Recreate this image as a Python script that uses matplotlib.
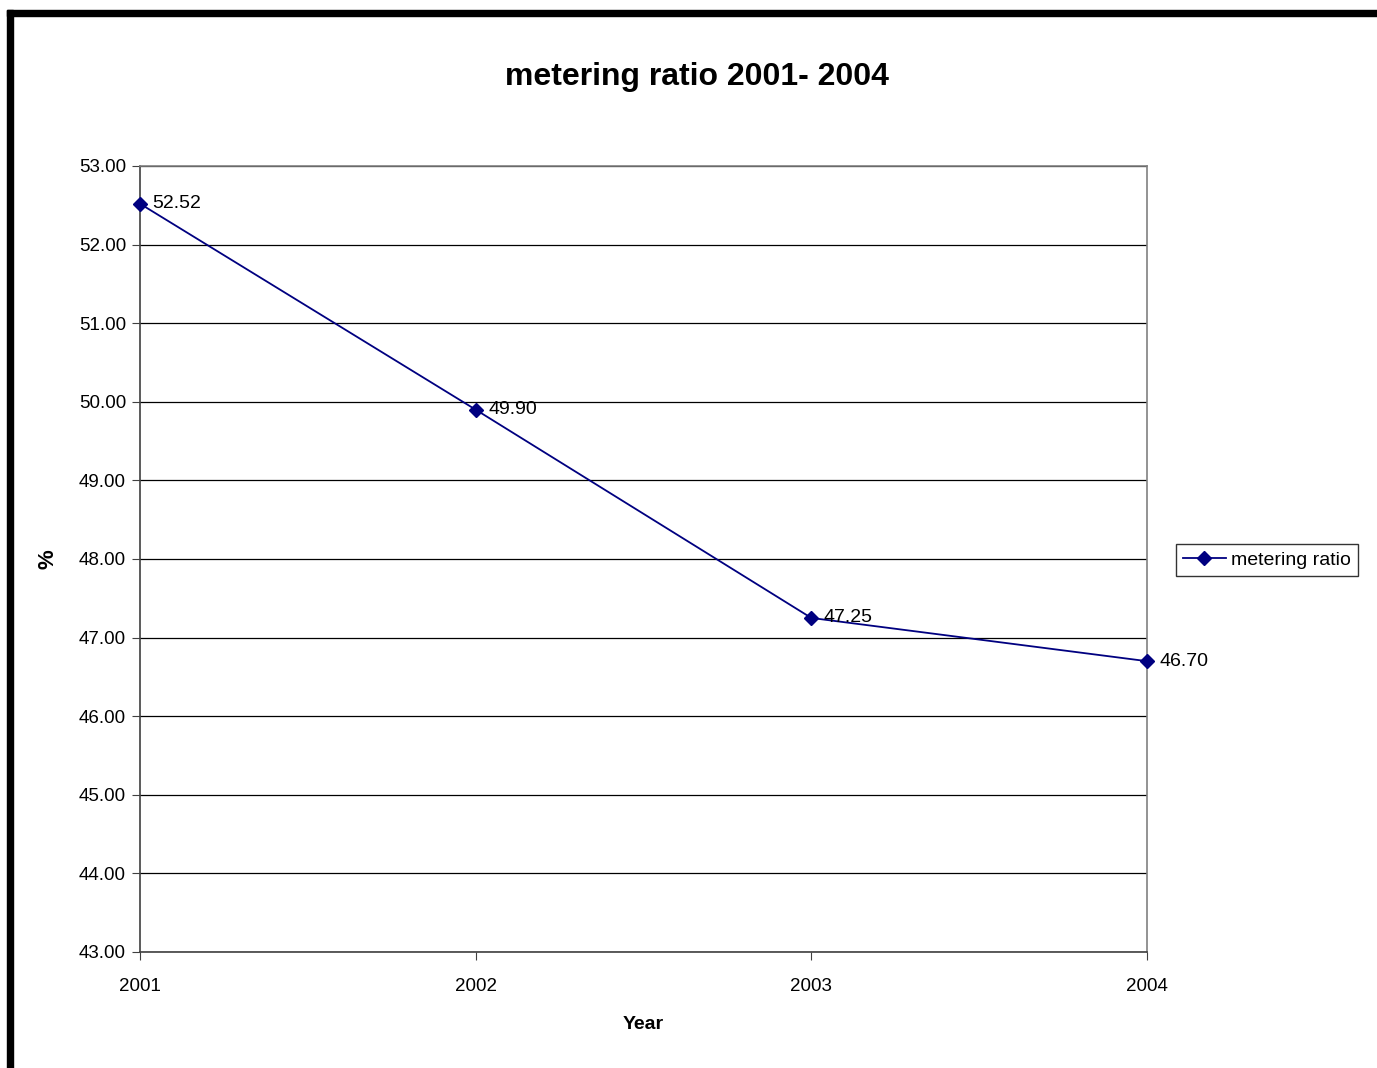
import matplotlib.pyplot as plt
from matplotlib.patches import Rectangle

plt.rcParams['font.family'] = ['Liberation Sans', 'DejaVu Sans']

years = ["2001", "2002", "2003", "2004"]
ratio = [52.52, 49.90, 47.25, 46.70]
yticks = [43, 44, 45, 46, 47, 48, 49, 50, 51, 52, 53]

fig = plt.figure(figsize=(13.77, 10.68), dpi=100)
W, H = 1377, 1068
ax = fig.add_axes([140 / W, 1 - 952 / H, (1147 - 140) / W, (952 - 166) / H])

x = list(range(len(years)))
ax.plot(x, ratio, color="#000080", lw=1.3, marker="D", ms=7.5,
        label="metering ratio", zorder=3, clip_on=False)
for xi, v in zip(x, ratio):
    ax.annotate(f"{v:.2f}", (xi, v), xytext=(9, 0), textcoords="offset points",
                va="center", ha="left", fontsize=14)

ax.set_xlim(0, len(years) - 1)
ax.set_ylim(43, 53)
ax.set_xticks(x)
ax.set_xticklabels(years, fontsize=13.5)
ax.set_yticks(yticks)
ax.set_yticklabels([f"{t:.2f}" for t in yticks], fontsize=13.5)
ax.grid(axis="y", color="black", lw=0.9)
ax.set_axisbelow(True)
for s in ax.spines.values():
    s.set_color("#808080")
    s.set_linewidth(1.2)
ax.spines["left"].set_color("#404040")
ax.spines["bottom"].set_color("#404040")
ax.tick_params(axis="both", direction="out", length=6, color="#404040", pad=4)
ax.tick_params(axis="x", pad=13)

ax.set_xlabel("Year", fontsize=14, fontweight="bold", labelpad=15)
ax.set_ylabel("%", fontsize=16, fontweight="bold", labelpad=15)
fig.text(697 / W, 1 - 77 / H, "metering ratio 2001- 2004", ha="center", va="center",
         fontsize=23, fontweight="bold")

leg = ax.legend(loc="center left", bbox_to_anchor=(1176 / W, 1 - 560 / H),
                bbox_transform=fig.transFigure, fontsize=14, frameon=True,
                fancybox=False, edgecolor="black", handlelength=2.2,
                borderpad=0.35, handletextpad=0.3, borderaxespad=0)
leg.get_frame().set_linewidth(1.0)

# heavy black frame on the top and left edges
fig.patches.append(Rectangle((7 / W, 0), 6 / W, 1 - 10 / H, transform=fig.transFigure,
                             color="black", zorder=10))
fig.patches.append(Rectangle((7 / W, 1 - 16 / H), 1 - 7 / W, 6 / H, transform=fig.transFigure,
                             color="black", zorder=10))

fig.savefig("out.png", dpi=100)
